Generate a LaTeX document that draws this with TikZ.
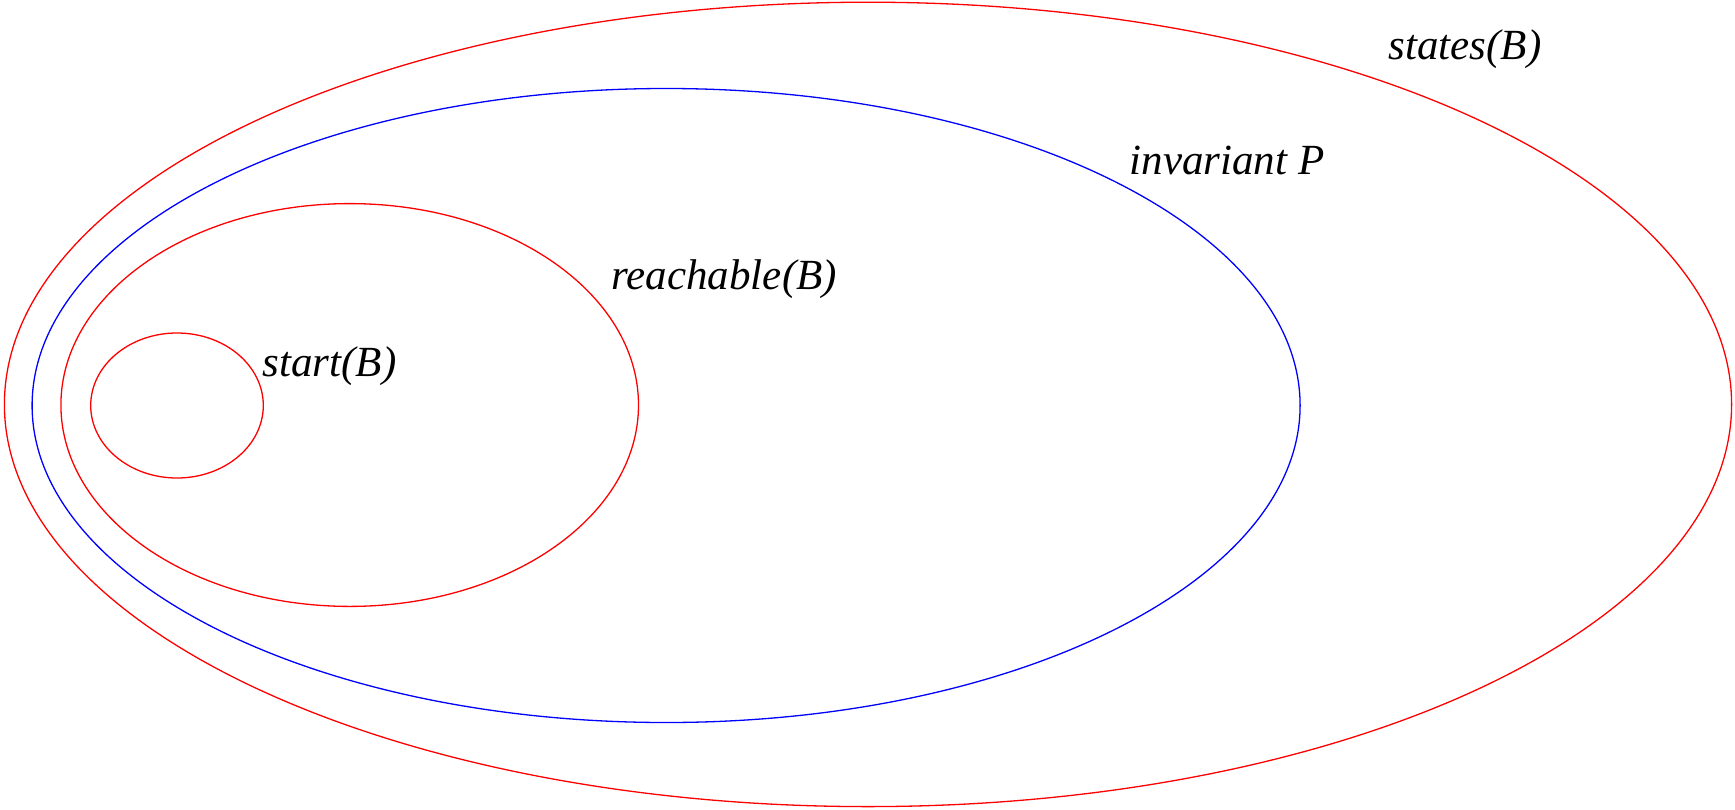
\documentclass[tikz,border=0pt]{standalone}
\usepackage{fontspec}
\setmainfont{Liberation Serif}[ItalicFont={Liberation Serif Italic}]
\newfontfamily\setfont{Liberation Serif Italic}

\begin{document}
\begin{tikzpicture}[x=1pt, y=-1pt, line width=1.3pt,
  setred/.style={draw=red},
  setblue/.style={draw=blue},
  setlabel/.style={anchor=base west, inner sep=0pt, font=\fontsize{43}{52}\selectfont\setfont}]

  %% ════ 集合（椭圆）════
  \draw[setred]  (868.0,404.4) ellipse (863.6 and 402.2);
  \draw[setblue] (666.1,405.5) ellipse (634.0 and 317.0);
  \draw[setred]  (349.7,405.0) ellipse (288.8 and 201.4);
  \draw[setred]  (177.0,405.5) ellipse (86.3 and 72.5);

  %% ════ 标签 ════
  \node[setlabel] (states)    at (1388.0,59.0)  {states(B)};
  \node[setlabel] (invariant) at (1129.0,174.0) {invariant P};
  \node[setlabel] (reachable) at (611.0,289.0)  {reachable(B)};
  \node[setlabel] (start)     at (262.0,376.0)  {start(B)};

  % 钉死画布
  \pgfresetboundingbox
  \path[use as bounding box] (0,0) rectangle (1735,809);
\end{tikzpicture}
\end{document}
